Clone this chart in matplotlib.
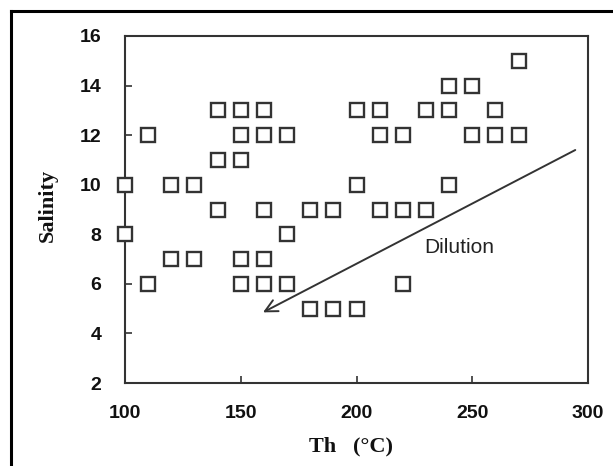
import matplotlib
matplotlib.use("Agg")
import matplotlib.pyplot as plt
from matplotlib.lines import Line2D

# Data: homogenization temperature (Th, °C) vs salinity
th = [270,
      240, 250,
      140, 150, 160, 200, 210, 230, 240, 260,
      110, 150, 160, 170, 210, 220, 250, 260, 270,
      140, 150,
      100, 120, 130, 200, 240,
      140, 160, 180, 190, 210, 220, 230,
      100, 170,
      120, 130, 150, 160,
      110, 150, 160, 170, 220,
      180, 190, 200]
salinity = [15,
            14, 14,
            13, 13, 13, 13, 13, 13, 13, 13,
            12, 12, 12, 12, 12, 12, 12, 12, 12,
            11, 11,
            10, 10, 10, 10, 10,
            9, 9, 9, 9, 9, 9, 9,
            8, 8,
            7, 7, 7, 7,
            6, 6, 6, 6, 6,
            5, 5, 5]

xticks = [100, 150, 200, 250, 300]
yticks = [2, 4, 6, 8, 10, 12, 14, 16]
arrow_start = (294.5, 11.4)
arrow_end = (159.6, 4.85)
dilution_label = "Dilution"
dilution_pos = (244.5, 7.45)

W, H = 613, 466
fig = plt.figure(figsize=(W / 100, H / 100), dpi=100)
ax = fig.add_axes([125 / W, 1 - 383 / H, 463 / W, 347 / H])

ax.plot(th, salinity, linestyle='none', marker='s', markersize=10,
        markerfacecolor='white', markeredgecolor='#333333',
        markeredgewidth=1.7, clip_on=False, zorder=3)

ax.set_xlim(100, 300)
ax.set_ylim(2, 16)
ax.set_xticks(xticks)
ax.set_yticks(yticks)

for s in ax.spines.values():
    s.set_color('#333333')
    s.set_linewidth(1.5)

ax.tick_params(direction='in', length=5, width=1.2, colors='#333333',
               top=False, right=False)
ax.tick_params(axis='y', pad=17)
ax.tick_params(axis='x', pad=16)
for lab in ax.get_xticklabels() + ax.get_yticklabels():
    lab.set_fontfamily('Liberation Sans')
    lab.set_fontweight('bold')
    lab.set_fontsize(14)
    lab.set_color('#111111')

ax.set_xlabel('Th   (°C)', fontfamily='Liberation Serif', fontweight='bold',
              fontsize=16, color='#111111')
ax.set_ylabel('Salinity', fontfamily='Liberation Serif', fontweight='bold',
              fontsize=16, color='#111111')
ax.xaxis.set_label_coords((351 - 125) / 463, (383 - 446) / 347)
ax.xaxis.label.set_va('center')
ax.yaxis.set_label_coords((47.5 - 125) / 463, (383 - 205) / 347)
ax.yaxis.label.set_va('center')

ax.annotate('', xy=arrow_end, xytext=arrow_start,
            arrowprops=dict(arrowstyle='->', color='#333333', lw=1.4,
                            mutation_scale=22, shrinkA=0, shrinkB=0))
ax.text(dilution_pos[0], dilution_pos[1], dilution_label,
        fontfamily='Liberation Sans', fontsize=15, color='#222222',
        ha='center', va='center')

# Outer frame (partially visible, cropped on right and bottom)
fig.add_artist(Line2D([10.5 / W, 1.0], [1 - 10.5 / H, 1 - 10.5 / H],
                      transform=fig.transFigure, color='black', lw=2.2))
fig.add_artist(Line2D([10.5 / W, 10.5 / W], [0.0, 1 - 10.5 / H],
                      transform=fig.transFigure, color='black', lw=2.2))

fig.savefig('out.png', dpi=100)
